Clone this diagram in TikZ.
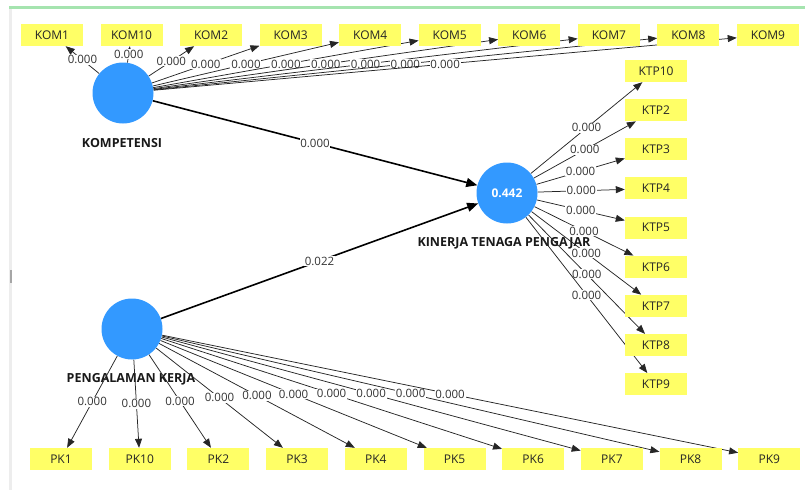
\documentclass[tikz,border=0pt]{standalone}
\usepackage{fontspec}
\setmainfont{Open Sans}
\usetikzlibrary{arrows.meta,backgrounds}
\definecolor{lvblue}{RGB}{51,153,255}
\definecolor{indyellow}{RGB}{255,255,102}
\definecolor{framegreen}{RGB}{165,228,175}
\tikzset{
  latent/.style={circle,fill=lvblue,minimum size=61pt,inner sep=0pt,text=white,font=\fontsize{12}{14}\selectfont\bfseries},
  indicator/.style={fill=indyellow,minimum width=62pt,minimum height=22pt,inner sep=0pt,text=black!85,font=\fontsize{12}{14}\selectfont},
  lvname/.style={font=\fontsize{12.5}{14}\selectfont\bfseries,text=black!90},
  loading/.style={draw=black!85,line width=0.75pt,-{Triangle[length=9pt,width=7pt]}},
  structpath/.style={draw=black,line width=1.6pt,-{Triangle[length=11pt,width=9pt]}},
  coef/.style={fill=white,inner sep=0.8pt,text=black!80,font=\fontsize{11.5}{13}\selectfont}
}
\begin{document}
\begin{tikzpicture}[x=1pt,y=-1pt]
\useasboundingbox (0,0) rectangle (805,490);
\fill[black!7] (9,8) rectangle (12,490);
\fill[black!35] (10,270) rectangle (12,283);
\fill[framegreen] (9,6) rectangle (805,9);

\node[latent] (kom) at (123,93) {};
\node[latent] (pk) at (132,329) {};
\node[latent] (ktp) at (507,193) {0.442};

\foreach \n [count=\i from 0] in {1,10,2,3,4,5,6,7,8,9} {
  \node[indicator] (kom\n) at (52+79.55*\i,35) {KOM\n};
  \node[indicator] (pk\n) at (61+78.7*\i,459) {PK\n};
}
\foreach \n [count=\i from 0] in {10,2,3,4,5,6,7,8,9}
  \node[indicator] (ktp\n) at (656,71+39.15*\i) {KTP\n};

\begin{pgfonlayer}{background}
\node[lvname] (komname) at (122,143) {KOMPETENSI};
\node[lvname,anchor=west] (ktpname) at (414,243) {KINERJA TENAGA PENGAJAR};
\node[lvname] (pkname) at (131,379) {PENGALAMAN KERJA};
\foreach \n in {1,10,2,3,4,5,6,7,8,9} {
  \draw[loading] (kom) -- node[coef] {0.000} (kom\n);
  \draw[loading] (pk) -- node[coef] {0.000} (pk\n);
}
\foreach \n in {10,2,3,4,5,6,7,8,9}
  \draw[loading] (ktp) -- node[coef] {0.000} (ktp\n);
\draw[structpath] (kom) -- node[coef] {0.000} (ktp);
\draw[structpath] (pk) -- node[coef] {0.022} (ktp);
\end{pgfonlayer}
\end{tikzpicture}
\end{document}
